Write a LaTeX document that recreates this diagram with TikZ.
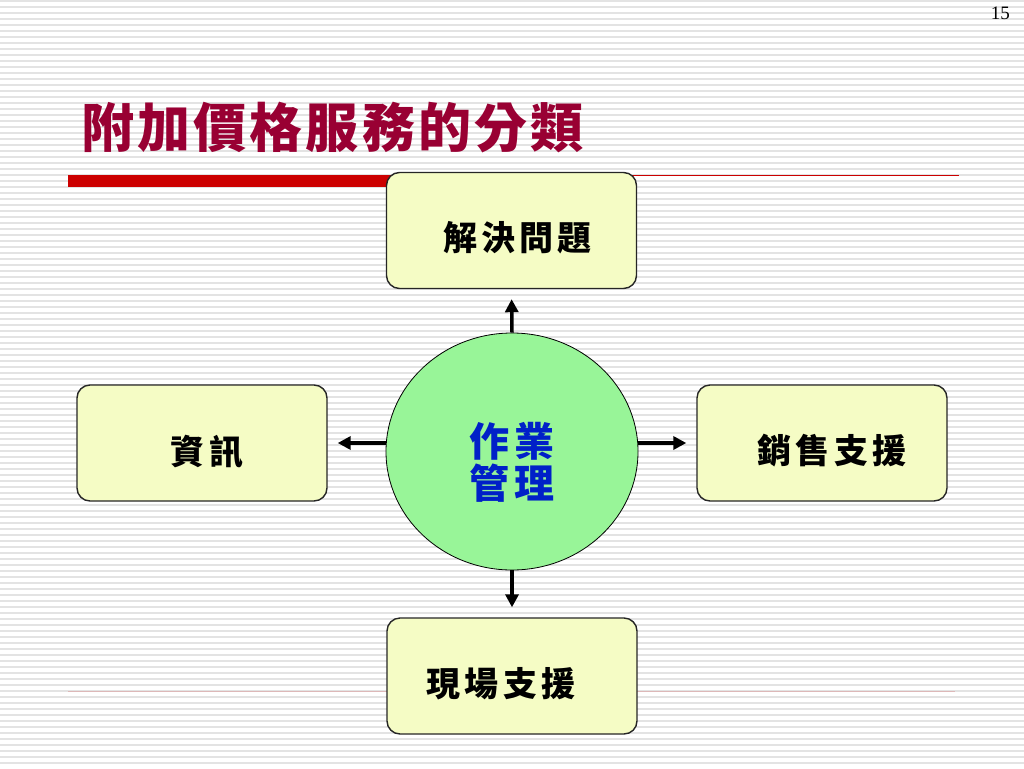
\documentclass[tikz,border=0pt]{standalone}
\usepackage{fontspec}
\usepackage{tikz}
\usetikzlibrary{arrows.meta,calc,shapes.geometric}
\setmainfont{Liberation Serif}
\newfontfamily\cjk[LetterSpace=6]{Noto Sans CJK TC}
\newfontfamily\cjkwide[LetterSpace=12]{Noto Sans CJK TC}
\definecolor{titlered}{HTML}{990033}
\definecolor{barred}{HTML}{CC0000}
\definecolor{boxyellow}{HTML}{F5FCC5}
\definecolor{hubgreen}{HTML}{98F598}
\definecolor{hubblue}{HTML}{0020C8}
\definecolor{stripe}{HTML}{E3E3E3}
\definecolor{footline}{HTML}{DDB8B8}

\begin{document}
\begin{tikzpicture}[x=1pt,y=-1pt,
  box/.style={draw=black!85,line width=1.4pt,rounded corners=13pt,fill=boxyellow,minimum width=250pt,minimum height=116pt,inner sep=0pt},
  boxtext/.style={font=\cjkwide\bfseries\fontsize{34}{36}\selectfont,inner sep=0pt},
  arr/.style={-{Triangle[length=13pt,width=13pt]},line width=3.5pt,shorten >=10pt}]
\useasboundingbox (0,0) rectangle (1024,768);
% background stripes
\fill[white] (0,0) rectangle (1024,768);
\foreach \y in {1,7,...,767}
  \draw[stripe,line width=2pt] (0,\y) -- (1024,\y);
% title and rules
\node[anchor=west,inner sep=0pt,text=titlered,font=\cjk\bfseries\fontsize{53}{56}\selectfont] (title) at (81,128) {附加價格服務的分類};
\fill[barred] (68,175) rectangle (390,187);
\draw[barred,line width=1.5pt] (390,175.5) -- (959,175.5);
\draw[footline,line width=1pt] (68,691.5) -- (955,691.5);
\node[anchor=north east,inner sep=0pt,font=\fontsize{19}{20}\selectfont] (page) at (1010,7) {15};

\node[box] (top) at (511.5,230.5) {};
\node[box] (left) at (202,443) {};
\node[box] (right) at (822,443) {};
\node[box] (bottom) at (512,676) {};
\node[boxtext] at ($(top)+(6,7)$) {解決問題};
\node[boxtext] at ($(left)+(5,9)$) {資訊};
\node[boxtext] at ($(right)+(10,8)$) {銷售支援};
\node[boxtext] at ($(bottom)+(-11,8)$) {現場支援};

\node[ellipse,draw,line width=0.8pt,fill=hubgreen,minimum width=252pt,minimum height=237pt,inner sep=0pt] (hub) at (512,451.5) {};
\node[align=center,inner sep=0pt,text=hubblue,font=\cjkwide\bfseries\fontsize{40}{42}\selectfont] at ($(hub)+(0,11)$) {作業\\管理};

\draw[arr] (hub.north) -- (top.south);
\draw[arr] (hub.south) -- (bottom.north);
\draw[arr] (hub.west |- left.east) -- (left.east);
\draw[arr] (hub.east |- right.west) -- (right.west);
\end{tikzpicture}
\end{document}
